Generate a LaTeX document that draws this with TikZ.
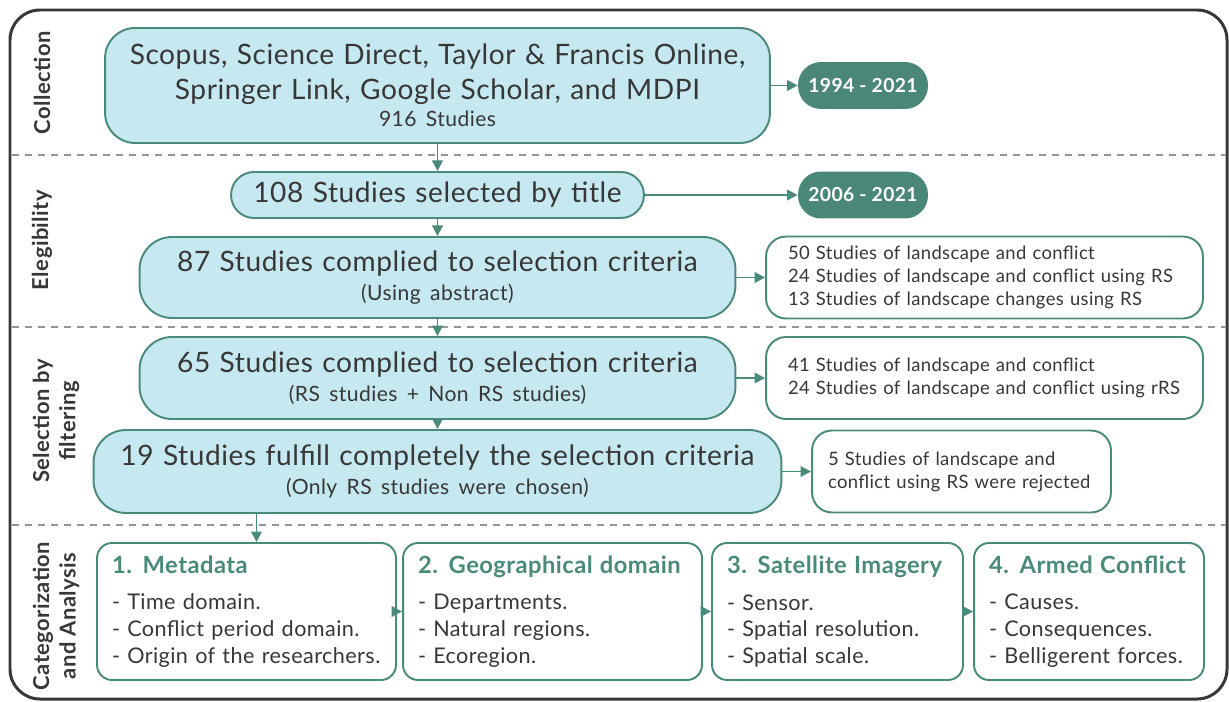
\documentclass[tikz,border=0pt]{standalone}
\usepackage{fontspec}
\setmainfont{Lato}[LetterSpace=2]
\usepackage{tikz}
\usetikzlibrary{arrows.meta}

\definecolor{boxblue}{RGB}{198,232,240}
\definecolor{boxgreen}{RGB}{74,138,122}
\definecolor{pillgreen}{RGB}{74,135,120}
\definecolor{txtgray}{RGB}{55,55,55}
\definecolor{sepgray}{RGB}{150,150,150}

\tikzset{
  stagebox/.style={draw=boxgreen, fill=boxblue, line width=1.1pt, rounded corners=0.65cm, align=center, text=txtgray, inner xsep=0pt, inner ysep=0pt, font=\fontsize{16}{19.8}\selectfont},
  listbox/.style={draw=boxgreen, fill=white, line width=1.1pt, rounded corners=0.4cm, align=left, text=txtgray, inner ysep=0pt, minimum height=1.64cm, font=\fontsize{10.5}{13}\selectfont},
  datepill/.style={fill=pillgreen, rounded corners=0.46cm, minimum width=2.6cm, minimum height=0.94cm, text=white, font=\bfseries\fontsize{11}{12}\selectfont},
  catbox/.style={draw=boxgreen, fill=white, line width=1.1pt, rounded corners=0.3cm, minimum height=2.74cm, align=left, text=txtgray, inner xsep=0.3cm, font=\fontsize{12.3}{15.3}\selectfont},
  phase/.style={rotate=90, align=center, text=txtgray, font=\bfseries\fontsize{12.5}{15}\selectfont},
  sepline/.style={draw=sepgray, line width=1.5pt, dash pattern=on 4pt off 3.4pt},
  arr/.style={draw=boxgreen, line width=1.1pt, -{Triangle[length=6pt,width=6pt]}},
}
\newcommand{\cathead}[1]{{\color{boxgreen}\bfseries\fontsize{13.5}{15.3}\selectfont #1}}
\newcommand{\subline}[1]{{\fontsize{12}{15}\selectfont #1}}

\begin{document}
\begin{tikzpicture}[x=0.02cm, y=-0.02cm]
            \useasboundingbox (0,0) rectangle (1229,702);

            % Frame and phase separators
            \draw[line width=1.7pt, draw=txtgray, rounded corners=0.6cm] (10,10) rectangle (1227,699);
            \draw[sepline] (12,155) -- (1226,155);
            \draw[sepline] (12,327) -- (1226,327);
            \draw[sepline] (12,525) -- (1226,525);

            % Phases
            \node[phase] (collection) at (42,83) {Collection};
            \node[phase] (elegibility) at (42,240) {Elegibility};
            \node[phase] (filtering) at (56,421) {Selection by\\filtering};
            \node[phase] (analysis) at (56,616) {Categorization\\and Analysis};

            % Nodes
            \node[stagebox, text width=13.3cm, minimum height=2.3cm, rounded corners=0.6cm] (sources) at (437.5,85.5)
              {Scopus, Science Direct, Taylor \& Francis Online,\\ Springer Link, Google Scholar, and MDPI\\[-4.5pt] \subline{916 Studies}};
            \node[stagebox, text width=8.26cm, minimum height=0.92cm, rounded corners=0.46cm] (title) at (437.5,195) {108 Studies selected by title};
            \node[stagebox, text width=11.92cm, minimum height=1.62cm] (abstract) at (437.5,277.5)
              {87 Studies complied to selection criteria\\[-3pt] \subline{(Using abstract)}};
            \node[stagebox, text width=11.92cm, minimum height=1.64cm] (criteria) at (437.5,378)
              {65 Studies complied to selection criteria\\[-3pt] \subline{(RS studies + Non RS studies)}};
            \node[stagebox, text width=13.76cm, minimum height=1.66cm] (fulfill) at (437.5,471.5)
              {19 Studies fulfill completely the selection criteria\\[-3pt] \subline{(Only RS studies were chosen)}};

            \node[datepill] (range1) at (863,85.5) {1994 - 2021};
            \node[datepill] (range2) at (863,195) {2006 - 2021};

            \node[listbox, text width=7.86cm, inner xsep=0.44cm] (abslist) at (984.5,277.5)
              {50 Studies of landscape and conflict\\ 24 Studies of landscape and conflict using RS\\ 13 Studies of landscape changes using RS};
            \node[listbox, text width=7.86cm, inner xsep=0.44cm] (critlist) at (984.5,378)
              {41 Studies of landscape and conflict\\ \mbox{24 Studies of landscape and conflict using rRS}};
            \node[listbox, text width=5.34cm, inner xsep=0.32cm] (rejected) at (961.5,471.5)
              {5 Studies of landscape and\\ conflict using RS were rejected};

            \node[catbox, text width=5.38cm] (cat1) at (246.5,611.5)
              {\cathead{1. Metadata}\\[5.7pt] - Time domain.\\ - Conflict period domain.\\ \mbox{- Origin of the researchers.}};
            \node[catbox, text width=5.38cm] (cat2) at (552.5,611.5)
              {\cathead{2. Geographical domain}\\[5.7pt] - Departments.\\ - Natural regions.\\ - Ecoregion.};
            \node[catbox, text width=4.42cm] (cat3) at (837.5,611.5)
              {\cathead{3. Satellite Imagery}\\[5.7pt] - Sensor.\\ - Spatial resolution.\\ - Spatial scale.};
            \node[catbox, text width=4.0cm] (cat4) at (1089,611.5)
              {\cathead{4. Armed Conflict}\\[5.7pt] - Causes.\\ - Consequences.\\ - Belligerent forces.};

            % Lines
            \draw[arr] (sources) -- (title);
            \draw[arr] (title) -- (abstract);
            \draw[arr] (abstract) -- (criteria);
            \draw[arr] (criteria) -- (fulfill);
            \draw[arr] (sources) -- (range1);
            \draw[arr] (title) -- (range2);
            \draw[arr] (abstract) -- (abslist);
            \draw[arr] (criteria) -- (critlist);
            \draw[arr] (fulfill) -- (rejected);
            \draw[arr] ([xshift=0.2cm]cat1.north |- fulfill.south) -- ([xshift=0.2cm]cat1.north);
            \draw[arr] (cat1) -- (cat2);
            \draw[arr] (cat2) -- (cat3);
            \draw[arr] (cat3) -- (cat4);
        \end{tikzpicture}
\end{document}
